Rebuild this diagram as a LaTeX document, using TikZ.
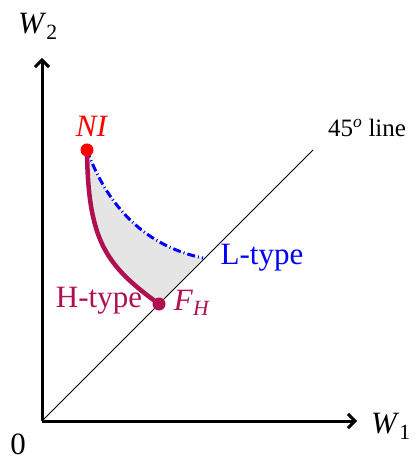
\documentclass[tikz,border=0pt]{standalone}
\usepackage{fontspec}
\setmainfont{Liberation Serif}
\usetikzlibrary{arrows.meta}
\definecolor{htype}{RGB}{176,16,80}
\begin{document}
\begin{tikzpicture}[x=1pt,y=-1pt,
  axis/.style={line width=3pt,-{Straight Barb[length=7pt,width=14pt,line width=3pt]}},
  lbl/.style={font=\fontsize{31}{36}\selectfont,inner sep=0pt},
  dot/.style={circle,inner sep=0pt,minimum size=13pt}]
\useasboundingbox (0,0) rectangle (415,462);
\coordinate (O) at (42,421);
\coordinate (Xend) at (357,421);
\coordinate (Yend) at (42,58);
\coordinate (D) at (313,150);
\coordinate (Lend) at (203,258);
\coordinate (NIc) at (87,150);
\coordinate (FHc) at (159,304);
% shaded region
\fill[gray!20] (NIc) .. controls (88,240) and (105,265) .. (FHc) -- (Lend)
   .. controls (140,245) and (105,200) .. (NIc) -- cycle;
% 45 line
\draw[line width=0.8pt] (O) -- (D);
% axes
\draw[axis] (O) -- (Xend);
\draw[axis] (O) -- (Yend);
% curves
\draw[blue,line width=3pt,dash pattern=on 8pt off 3pt on 1pt off 3pt] (NIc) .. controls (105,200) and (140,245) .. (Lend);
\draw[htype,line width=4.5pt] (NIc) .. controls (88,240) and (105,265) .. (FHc);
% dots
\node[dot,fill=red] (NI) at (NIc) {};
\node[dot,fill=htype] (FH) at (FHc) {};
% labels
\node[lbl] (W2) at (38,26) {\textit{W}\textsubscript{2}};
\node[lbl] (W1) at (391,426) {\textit{W}\textsubscript{1}};
\node[lbl] (zero) at (18,444) {0};
\node[lbl,text=red] (NIlab) at (92,126) {\textit{NI}};
\node[lbl,text=htype] (FHlab) at (192,303) {\textit{F}\textsubscript{\textit{H}}};
\node[lbl,text=htype] (Hlab) at (99,301) {H-type};
\node[lbl,text=blue] (Llab) at (262,258) {L-type};
\node[font=\fontsize{25}{30}\selectfont,inner sep=0pt] (deg) at (367,128) {45\textsuperscript{\textit{o}} line};
\end{tikzpicture}
\end{document}
